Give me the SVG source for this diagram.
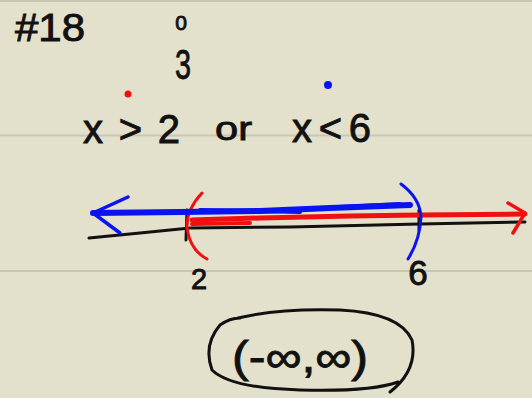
<svg xmlns="http://www.w3.org/2000/svg" width="532" height="398" viewBox="0 0 532 398">
<style>
.hw{font-family:"Liberation Sans","DejaVu Sans",sans-serif;fill:#111;stroke:#111;stroke-width:0.9}
.ink{fill:none;stroke:#111;stroke-width:3;stroke-linecap:round;stroke-linejoin:round}
.blue{fill:none;stroke:#0a14f0;stroke-linecap:round;stroke-linejoin:round}
.red{fill:none;stroke:#f01010;stroke-linecap:round;stroke-linejoin:round}
.rule{stroke:#c9c6b1;stroke-width:2}
</style>
<rect width="532" height="398" fill="#e3e0cb"/>
<line class="rule" x1="0" y1="1" x2="532" y2="1"/>
<line class="rule" x1="0" y1="135.5" x2="532" y2="135.5"/>
<line class="rule" x1="0" y1="271" x2="532" y2="271"/>

<g id="header">
<text class="hw" x="15" y="41" font-size="38" textLength="70" lengthAdjust="spacingAndGlyphs">#18</text>
<text class="hw" x="181" y="30" font-size="21" text-anchor="middle">0</text>
<text class="hw" x="183" y="79" font-size="42" text-anchor="middle" textLength="16" lengthAdjust="spacingAndGlyphs">3</text>
</g>
<g id="inequality">
<circle cx="128" cy="94" r="3.5" fill="#f01010"/>
<circle cx="328" cy="85" r="4" fill="#0a14f0"/>
<text class="hw" x="83" y="143" font-size="40" textLength="97" lengthAdjust="spacing">x &gt; 2</text>
<text class="hw" x="215" y="140" font-size="34" textLength="37" lengthAdjust="spacingAndGlyphs">or</text>
<text class="hw" x="292" y="142" font-size="40" textLength="79" lengthAdjust="spacing">x &lt; 6</text>
</g>

<g id="numberline">
<path class="ink" d="M89 238 L140 233 L190 228 L290 227 L420 224 L525 222" stroke-width="2.5"/>
<path class="ink" d="M187 210 L186 240" stroke-width="2"/>
<path class="ink" d="M419 210 L419 230" stroke-width="2"/>
</g>
<g id="connectors">
<path class="red" stroke-width="5" d="M192 220 L260 218 L350 216 L420 215 L525 214"/>
<path class="red" stroke-width="4" d="M192 224 L250 223"/>
<path class="red" stroke-width="3.5" d="M508 203 L525 213 L513 233"/>
<path class="red" stroke-width="3" d="M202 193 Q186 210 187 228 Q190 250 207 259"/>
<path class="blue" stroke-width="6" d="M93 213 L180 212 L260 211 L330 208 L410 205"/>
<path class="blue" stroke-width="4" d="M200 210 L300 212 M340 207 L400 204"/>
<path class="blue" stroke-width="3.5" d="M128 197 L93 213 L120 233"/>
<path class="blue" stroke-width="3" d="M401 184 Q420 198 421 217 Q420 240 408 259"/>
</g>
<g id="labels">
<text class="hw" x="199" y="289" font-size="29" text-anchor="middle">2</text>
<text class="hw" x="418" y="285" font-size="35" text-anchor="middle">6</text>
</g>
<g id="answer">
<path class="ink" d="M238 318 Q280 308 340 310 Q400 313 412 340 Q418 370 390 392 M398 382 Q370 392 300 390 Q230 388 212 370 Q203 345 220 325 Q230 318 240 318"/>
<text class="hw" x="232" y="372" font-size="44" textLength="136" lengthAdjust="spacingAndGlyphs">(-∞,∞)</text>
</g>
</svg>
